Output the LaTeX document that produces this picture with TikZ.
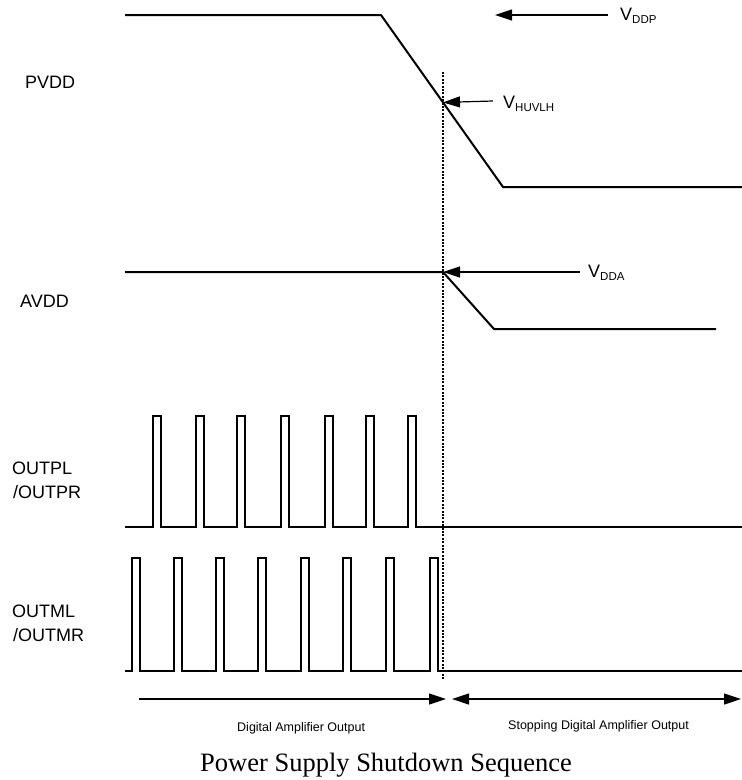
\documentclass[tikz,border=0pt]{standalone}
\usepackage{fontspec}
\setmainfont{Liberation Serif}
\setsansfont{Liberation Sans}
\usetikzlibrary{arrows.meta,calc}
\newcommand{\lowsub}[1]{\raisebox{-3pt}{\fontsize{11.5}{12}\selectfont #1}}

\begin{document}
\begin{tikzpicture}[x=1pt,y=-1pt]
  \tikzstyle{signal} = [line width=2pt, line join=miter]
  \tikzstyle{marker} = [line width=2pt, dash pattern=on 2pt off 1.4pt]
  \tikzstyle{pointer} = [line width=1.2pt, -{Triangle[length=17pt,width=11pt]}]
  \tikzstyle{spanarrow} = [line width=1.2pt, {Triangle[length=17pt,width=11pt]}-{Triangle[length=17pt,width=11pt]}]
  \tikzstyle{siglabel} = [font=\sffamily\fontsize{18}{22}\selectfont, anchor=base west, inner sep=0pt]
  \tikzstyle{phase} = [font=\sffamily\fontsize{12.5}{15}\selectfont, anchor=base west, inner sep=0pt]
  \tikzstyle{heading} = [font=\rmfamily\fontsize{26.5}{30}\selectfont, anchor=base west, inner sep=0pt]

  \useasboundingbox (0,0) rectangle (742,780);

  \node[siglabel] (pvdd) at (25,88) {PVDD};
  \node[siglabel] (avdd) at (20,307) {AVDD};
  \node[siglabel] (outpl) at (12,474) {OUTPL};
  \node[siglabel] (outpr) at (13,498) {/OUTPR};
  \node[siglabel] (outml) at (12,617) {OUTML};
  \node[siglabel] (outmr) at (13,641) {/OUTMR};

  \node[siglabel] (vddp) at (620,20) {V\lowsub{DDP}};
  \node[siglabel] (vhuvlh) at (503,108) {V\lowsub{HUVLH}};
  \node[siglabel] (vdda) at (588,277) {V\lowsub{DDA}};

  \node[phase] (digital) at (237,731) {Digital Amplifier Output};
  \node[phase] (stopping) at (508,729) {Stopping Digital Amplifier Output};
  \node[heading] (caption) at (200,771) {Power Supply Shutdown Sequence};

  \coordinate (p1) at (125,15);
  \coordinate (p2) at (381,15);
  \coordinate (p3) at (503,187);
  \coordinate (p4) at (742,187);
  \coordinate (a1) at (125,272);
  \coordinate (a2) at (443,272);
  \coordinate (a3) at (494,329);
  \coordinate (a4) at (716,329);
  \coordinate (cut top) at (443,72);
  \coordinate (cut bottom) at (443,680);
  \coordinate (hu) at ($(p2)!{(443-381)/(503-381)}!(p3)$);

  \coordinate (vddp from) at (608,15);
  \coordinate (vddp to) at (495,15);
  \coordinate (hu from) at (493,101);
  \coordinate (vdda from) at (580,272);
  \coordinate (run start) at (139,699);
  \coordinate (run end) at (446,699);
  \coordinate (stop start) at (452,699);
  \coordinate (stop end) at (741,699);

  \draw[signal] (p1) -- (p2) -- (p3) -- (p4);
  \draw[signal] (a1) -- (a2) -- (a3) -- (a4);

  \draw[signal] (125,527) \foreach \x in {153,196,237,281,325,366,408} {
    -- (\x,527) -- (\x,416) -- (\x+8,416) -- (\x+8,527)} -- (742,527);
  \draw[signal] (125,671) \foreach \x in {132,174,216,258,301,343,386,430} {
    -- (\x,671) -- (\x,558) -- (\x+8,558) -- (\x+8,671)} -- (742,671);

  \draw[marker] (cut top) -- (cut bottom);

  \draw[pointer] (vddp from) -- (vddp to);
  \draw[pointer] (hu from) -- (hu);
  \draw[pointer] (vdda from) -- (a2);

  \draw[pointer] (run start) -- (run end);
  \draw[spanarrow] (stop start) -- (stop end);
\end{tikzpicture}
\end{document}
